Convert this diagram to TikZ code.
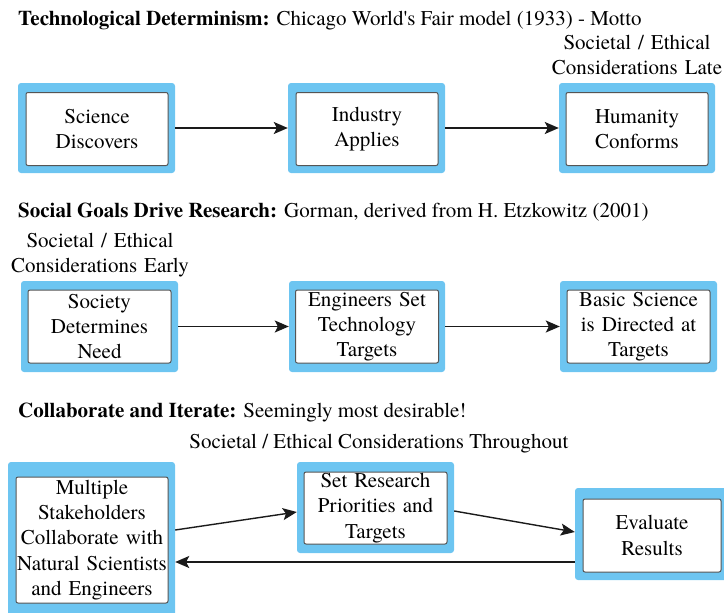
\documentclass[tikz,border=0pt]{standalone}
\usepackage{fontspec}
\newfontfamily\termes{texgyretermes}[Extension=.otf, UprightFont=*-regular, BoldFont=*-bold, ItalicFont=*-italic, BoldItalicFont=*-bolditalic]
\usetikzlibrary{arrows.meta,calc}
\definecolor{frameblue}{HTML}{6DC5F1}
\definecolor{innergray}{HTML}{555555}
\definecolor{arrowblack}{HTML}{1A1A1A}
\begin{document}
\begin{tikzpicture}[x=1pt,y=-1pt,
  outerbox/.style={fill=frameblue, draw=none, rounded corners=3pt, inner sep=0pt},
  innerbox/.style={fill=white, draw=innergray, line width=1pt, rounded corners=2pt, inner sep=0pt, align=center, text width=140pt, font=\termes\fontsize{21}{25.3}\selectfont},
  lbl/.style={inner sep=0pt, align=center, font=\termes\fontsize{21}{25}\selectfont},
  ttl/.style={inner sep=0pt, anchor=base west, font=\termes\fontsize{21}{25}\selectfont},
  conn/.style={draw=arrowblack, line width=1.4pt, -{Stealth[length=14pt,width=12pt,inset=3pt]}}
]
\useasboundingbox (0,0) rectangle (724,613);
\clip (0,0) rectangle (724,613);

% ---------- Row 1 ----------
\node[ttl] (t1) at (18,25) {\textbf{Technological Determinism:} Chicago World's Fair model (1933) - Motto};
\node[outerbox, minimum width=157, minimum height=90] (A) at (96.5,128) {};
\node[innerbox, minimum width=142, minimum height=73] (Ai) at (97,129) {Science\\Discovers};
\node[outerbox, minimum width=157, minimum height=90] (B) at (366.5,128) {};
\node[innerbox, minimum width=142, minimum height=73] (Bi) at (367,129) {Industry\\Applies};
\node[outerbox, minimum width=156, minimum height=90] (C) at (637,128) {};
\node[innerbox, minimum width=142, minimum height=73] (Ci) at (637,129) {Humanity\\Conforms};
\node[lbl, text width=180pt] (l1) at (637,55) {Societal / Ethical\\Considerations Late};
\draw[conn] (A.east) -- (B.west);
\draw[conn] (B.east) -- (C.west);

% ---------- Row 2 ----------
\node[ttl] (t2) at (18,217) {\textbf{Social Goals Drive Research:} Gorman, derived from H. Etzkowitz (2001)};
\node[outerbox, minimum width=157, minimum height=91] (D) at (99.5,326.5) {};
\node[innerbox, minimum width=143, minimum height=73] (Di) at (99.5,326.5) {Society\\Determines\\Need};
\node[outerbox, minimum width=156, minimum height=91] (E) at (367,326.5) {};
\node[innerbox, minimum width=143, minimum height=73] (Ei) at (367,326.5) {Engineers Set\\Technology\\Targets};
\node[outerbox, minimum width=157, minimum height=91] (F) at (638.5,326.5) {};
\node[innerbox, minimum width=143, minimum height=73] (Fi) at (638.5,326.5) {Basic Science\\is Directed at\\Targets};
\node[lbl, text width=190pt] (l2) at (100,255) {Societal / Ethical\\Considerations Early};
\draw[conn] (D.east) -- (E.west);
\draw[conn] (E.east) -- (F.west);

% ---------- Row 3 ----------
\node[ttl] (t3) at (18,417) {\textbf{Collaborate and Iterate:} Seemingly most desirable!};
\node[ttl, anchor=base] (l3) at (379,448) {Societal / Ethical Considerations Throughout};
\node[outerbox, minimum width=167, minimum height=156] (G) at (91.5,540) {};
\node[innerbox, text width=152pt, minimum width=152, minimum height=126] (Gi) at (92,540) {Multiple\\Stakeholders\\Collaborate with\\Natural Scientists\\and Engineers};
\node[outerbox, minimum width=157, minimum height=91] (H) at (375.5,507.5) {};
\node[innerbox, minimum width=143, minimum height=72] (Hi) at (375.5,508) {Set Research\\Priorities and\\Targets};
\node[outerbox, minimum width=154, minimum height=92] (I) at (652,534) {};
\node[innerbox, text width=136pt, minimum width=138, minimum height=73] (Ii) at (652,535.5) {Evaluate\\Results};
\draw[conn] ([yshift=10pt]G.east) -- ([yshift=-4.5pt]H.west);
\draw[conn] ([yshift=-3.5pt]H.east) -- ([yshift=2pt]I.west);
\coordinate (ret) at ([yshift=-28pt]I.west);
\draw[conn] (ret) -- (G.east |- ret);
\end{tikzpicture}
\end{document}
